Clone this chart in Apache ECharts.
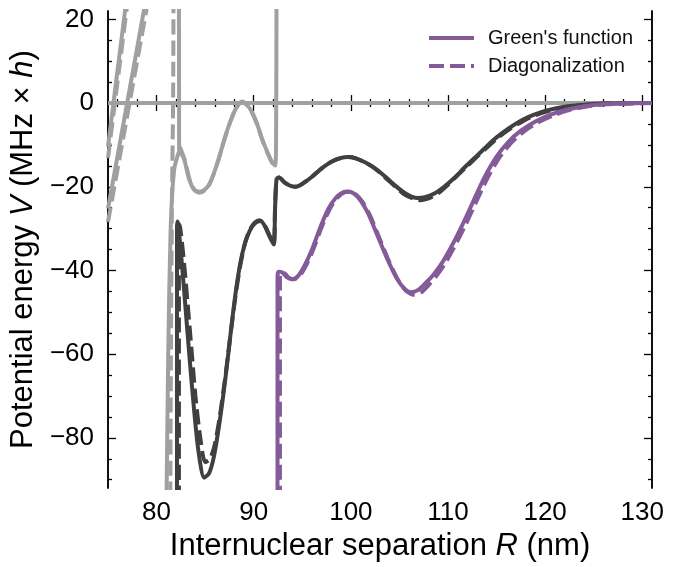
<!DOCTYPE html>
<html lang="en">
<head>
    <meta charset="UTF-8">
    <title>Potential curves</title>
    <script src="https://cdn.jsdelivr.net/npm/echarts@6/dist/echarts.min.js"></script>
    <style>
        html, body { margin: 0; padding: 0; background: #fff; }
        #main { width: 678px; height: 567px; }
    </style>
</head>
<body>
<div id="main"></div>
<script>
    // axis ticks
    var xMajor = [80, 90, 100, 110, 120, 130];
    var xMinor = [76, 78, 82, 84, 86, 88, 92, 94, 96, 98, 102, 104, 106, 108, 112, 114, 116, 118, 122, 124, 126, 128];
    var yMajor = [-80, -60, -40, -20, 0, 20];
    var yMinor = [-90, -85, -75, -70, -65, -55, -50, -45, -35, -30, -25, -15, -10, -5, 5, 10, 15];

    // light grey curves (not in legend)
    var lightZero = [[75, 0], [131, 0]];
    var lightA = [[75, -10.4], [77, 26.6]];
    var lightADash = [[75, -13.1], [77, 23.9]];
    var lightB = [[75, -25.2], [79.5, 32.4]];
    var lightBDash = [[75, -28.4], [79.5, 29.2]];
    var lightTop = [[82.3, 30], [82.32, -11.7]];
    var lightLow = [[81.0, -100], [81.2, -60], [81.45, -30], [81.8, -16], [82.2, -12.3], [82.37, -11.7],
        [82.82, -13.3], [83.33, -18], [83.8, -20.5], [84.36, -21.2], [84.9, -20.8], [85.38, -19.6],
        [85.9, -16.8], [86.4, -13.3], [86.9, -9.3], [87.44, -5.4], [88.1, -1.6], [88.8, 0.4], [89.3, -0.4],
        [89.83, -2.2], [90.35, -5], [90.85, -8.5], [91.4, -11.7], [91.88, -14.1], [92.2, -14.9], [92.3, -10], [92.35, 30]];
    var lightDashVert = [[81.75, 30], [81.7, 0], [81.6, -20], [81.5, -50], [81.4, -100]];
    var lightWiggleDash = [[82.4, -10.5], [82.9, -13.6], [83.4, -18.3], [83.9, -20.8], [84.4, -21.4], [84.95, -20.9],
        [85.4, -19.6], [85.9, -16.8], [86.4, -13.3], [86.9, -9.3], [87.44, -5.4], [88.1, -1.6], [88.8, 0.3],
        [89.3, -0.5], [89.83, -2.3], [90.35, -5.1], [90.85, -8.6], [91.4, -11.8], [91.88, -14.2], [92.2, -15]];

    // dark grey curves
    var darkSolid = [[82.1, -100], [82.1, -30], [82.15, -28.3], [82.4, -33], [82.7, -41], [83, -49.5], [83.4, -61],
        [83.85, -73], [84.3, -83], [84.9, -89.5], [85.4, -88.5], [85.9, -84.5], [86.5, -76], [87.1, -65.5],
        [87.6, -55.5], [88.1, -46], [88.6, -38.5], [89.1, -33.5], [89.6, -30.5], [90.1, -28.8], [90.7, -28.2],
        [91.1, -29.2], [91.5, -31.2], [92.05, -33.8], [92.2, -25], [92.35, -18.2], [92.6, -17.8], [93.2, -19],
        [93.8, -19.8], [94.3, -20], [95, -19.3], [96, -17.6], [97, -15.6], [98, -14], [99, -13.1], [99.7, -12.9],
        [100.5, -13.2], [101.5, -14.2], [102.5, -15.6], [103.5, -17.5], [104.5, -19.6], [105.5, -21.4],
        [106.3, -22.4], [106.9, -22.7], [107.6, -22.5], [108.6, -21.6], [109.6, -20], [110.7, -17.8],
        [111.7, -15.4], [112.7, -13.2], [114, -10.3], [115, -8.2], [116.2, -6.1], [117.5, -4.2], [118.8, -2.8],
        [120.3, -1.7], [122, -0.9], [124, -0.4], [126, -0.12], [128, -0.03], [131, 0]];
    var darkDash = [[82.3, -100], [82.3, -30], [82.35, -29], [82.6, -33], [82.9, -40], [83.2, -48], [83.6, -59],
        [84, -70], [84.5, -80], [85, -85.8], [85.5, -85], [86, -81.5], [86.5, -75], [87.1, -65], [87.6, -55.5],
        [88.1, -46.5], [88.6, -39], [89.1, -33.5], [89.6, -30.3], [90.1, -28.6], [90.6, -28], [91.1, -29],
        [91.5, -31], [92.05, -33.6], [92.2, -25], [92.35, -18.2], [92.6, -17.8], [93.2, -19], [93.8, -19.8],
        [94.3, -20], [95, -19.3], [96, -17.6], [97, -15.6], [98, -14], [99, -13.1], [99.7, -12.9], [100.5, -13.2],
        [101.5, -14.2], [102.5, -15.7], [103.5, -17.7], [104.5, -19.8], [105.5, -21.8], [106.5, -22.9],
        [107.2, -23.2], [108, -22.8], [109, -21.5], [110, -19.5], [111, -17.2], [112, -15], [113, -12.8],
        [114.3, -10], [115.3, -8], [116.5, -6], [117.8, -4.2], [119.1, -2.8], [120.6, -1.7], [122.3, -0.9],
        [124.3, -0.4], [126.3, -0.12], [128.3, -0.03], [131, 0]];

    // purple curves (legend)
    var greenFn = [[92.45, -100], [92.45, -41.5], [92.55, -40.3], [92.9, -40.4], [93.4, -41.6], [93.9, -42.1],
        [94.5, -41.5], [95.2, -39], [96, -35], [96.8, -30], [97.7, -25.2], [98.5, -22.5], [99.2, -21.3],
        [99.7, -21.1], [100.3, -21.6], [101, -23.3], [101.8, -26.5], [102.8, -32], [103.8, -37.5], [104.7, -41.8],
        [105.5, -44.3], [106.2, -45.2], [106.9, -44.7], [107.7, -43], [108.5, -41], [109.3, -38.5], [110.3, -34.5],
        [111.4, -29.5], [112.5, -24], [113.7, -18], [115, -12.8], [116.2, -9.3], [117.5, -6.6], [119, -4.4],
        [120.5, -2.8], [122, -1.7], [124, -0.75], [126, -0.3], [128, -0.08], [131, 0]];
    var diagonal = [[92.7, -100], [92.7, -41.5], [92.8, -40.6], [93.1, -40.6], [93.6, -41.7], [94.1, -42.1],
        [94.7, -41.4], [95.4, -38.8], [96.2, -34.6], [97, -29.6], [97.9, -25], [98.7, -22.4], [99.4, -21.3],
        [99.9, -21.2], [100.5, -21.8], [101.2, -23.6], [102, -27], [103, -32.6], [104, -38.2], [104.9, -42.4],
        [105.7, -44.9], [106.5, -45.8], [107.2, -45.3], [108, -43.5], [108.8, -41.3], [109.6, -38.7],
        [110.6, -34.6], [111.7, -29.6], [112.8, -24.1], [114, -18.2], [115.3, -13], [116.5, -9.5], [117.8, -6.8],
        [119.3, -4.6], [120.8, -3], [122.3, -1.8], [124.3, -0.8], [126.3, -0.3], [128.3, -0.08], [131, 0]];

    var FONT = 'Liberation Sans, Arial, Helvetica, sans-serif';
    var PURPLE = '#845b98', DARK = '#404040', LIGHT = '#a0a0a0';
    var DASH = [15, 6];

    function curve(name, data, color, dashed, z) {
        return {
            name: name,
            type: 'line',
            data: data,
            symbol: 'none',
            showSymbol: false,
            smooth: 0.25,
            z: z,
            lineStyle: {color: color, width: 4, type: dashed ? DASH : 'solid', cap: 'butt'},
            itemStyle: {color: color}
        };
    }

    function xAx(pos, ticks, len, withLabels) {
        return {
            type: 'value', position: pos, min: 75, max: 131,
            axisLine: {show: true, lineStyle: {color: '#000', width: 1.5}},
            axisTick: {show: true, inside: true, length: len, customValues: ticks, lineStyle: {color: '#000', width: 1.3}},
            axisLabel: withLabels ? {show: true, customValues: xMajor, fontSize: 26, fontFamily: FONT, color: '#000', margin: 12} : {show: false},
            splitLine: {show: false}
        };
    }

    function yAx(pos, ticks, len, withLabels) {
        return {
            type: 'value', position: pos, min: -92, max: 22,
            axisLine: {show: true, lineStyle: {color: '#000', width: 1.5}},
            axisTick: {show: true, inside: true, length: len, customValues: ticks, lineStyle: {color: '#000', width: 1.3}},
            axisLabel: withLabels ? {
                show: true, customValues: yMajor, fontSize: 26, fontFamily: FONT, color: '#000', margin: 14,
                formatter: function (v) { return String(v).replace('-', '\u2212'); }
            } : {show: false},
            splitLine: {show: false}
        };
    }

    var titleStyle = {
        fontSize: 31, fontFamily: FONT, color: '#000',
        rich: {n: {fontSize: 31, fontFamily: FONT, color: '#000'}, i: {fontSize: 31, fontFamily: FONT, fontStyle: 'italic', color: '#000'}}
    };
    var xMain = xAx('bottom', xMajor, 8, true);
    xMain.name = '{n|Internuclear separation }{i|R}{n| (nm)}';
    xMain.nameLocation = 'middle';
    xMain.nameGap = 40;
    xMain.nameTextStyle = titleStyle;
    var yMain = yAx('left', yMajor, 8, true);
    yMain.name = '{n|Potential energy }{i|V}{n| (MHz \u00d7 }{i|h}{n|)}';
    yMain.nameLocation = 'middle';
    yMain.nameGap = 60;
    yMain.nameTextStyle = titleStyle;

    var myCharts = echarts.init(document.getElementById('main'), null, {renderer: 'canvas'});
    var option = {
        animation: false,
        backgroundColor: '#fff',
        grid: {left: 105, right: 26, top: 11, bottom: 74, containLabel: false},
        legend: {
            data: ["Green's function", 'Diagonalization'],
            orient: 'vertical',
            left: 422,
            top: 23,
            itemWidth: 45,
            itemHeight: 14,
            itemGap: 8,
            itemStyle: {color: 'transparent', borderColor: 'transparent', borderWidth: 0, opacity: 0},
            lineStyle: {width: 4},
            textStyle: {fontSize: 20, fontFamily: FONT, color: '#111', padding: [0, 0, 0, 9]}
        },
        xAxis: [
            xMain,
            xAx('bottom', xMinor, 4, false),
            xAx('top', xMajor, 8, false),
            xAx('top', xMinor, 4, false)
        ],
        yAxis: [
            yMain,
            yAx('left', yMinor, 4, false),
            yAx('right', yMajor, 8, false),
            yAx('right', yMinor, 4, false)
        ],
        series: [
            curve('l0', lightZero, LIGHT, false, 1),
            curve('la', lightA, LIGHT, false, 1),
            curve('lad', lightADash, LIGHT, true, 1),
            curve('lb', lightB, LIGHT, false, 1),
            curve('lbd', lightBDash, LIGHT, true, 1),
            curve('lt', lightTop, LIGHT, false, 1),
            curve('ll', lightLow, LIGHT, false, 1),
            curve('ldv', lightDashVert, LIGHT, true, 1),
            curve('lwd', lightWiggleDash, LIGHT, true, 1),
            curve('ds', darkSolid, DARK, false, 2),
            curve('dd', darkDash, DARK, true, 2),
            curve("Green's function", greenFn, PURPLE, false, 3),
            curve('Diagonalization', diagonal, PURPLE, true, 3)
        ]
    };
    myCharts.setOption(option);
</script>
</body>
</html>
